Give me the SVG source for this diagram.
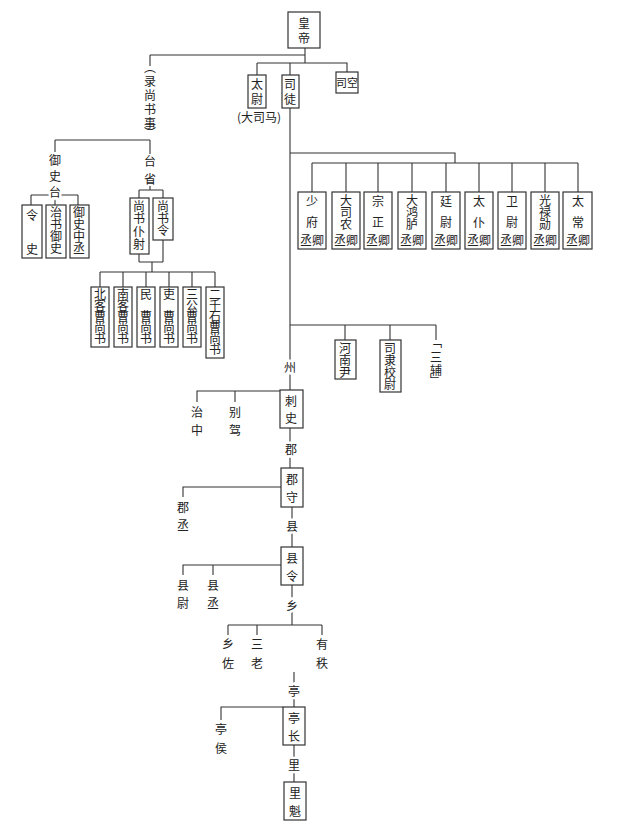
<svg xmlns="http://www.w3.org/2000/svg" width="640" height="827" viewBox="0 0 640 827">
<style>
text{font-family:"Noto Sans CJK SC",sans-serif;font-size:12px;fill:#222;text-anchor:middle}
.s{font-size:11px}
.t{font-size:10.5px}
.b{fill:#fff;stroke:#333;stroke-width:1.2}
.l{fill:none;stroke:#333;stroke-width:1.1}
.w{paint-order:stroke;stroke:#fff;stroke-width:5}
</style>
<rect width="640" height="827" fill="#fff"/>
<g id="connectors" class="l">
<path d="M305 48V63M150 55H305M257 63H347V72M257 63V75M290 63V75"/>
<path d="M150 55V66M150 144V140M55 140H150M55 140V152M150 140V154"/>
<path d="M31 195H78M31 195V205M55 195V205M78 195V205"/>
<path d="M150 186V190M139 190H163M139 190V198M163 190V198M139 254V262M163 240V262M139 262H163M152 262V272M100 272H215"/>
<path d="M100 272V287M123 272V287M146 272V287M169 272V287M192 272V287M215 272V287"/>
<path d="M290 108V468M290 153H455V163M312 163H578"/>
<path d="M312 163V192M346 163V192M378 163V192M412 163V192M446 163V192M479 163V192M512 163V192M545 163V192M578 163V192"/>
<path d="M290 325H436M345 325V340M390 325V340M436 325V340"/>
<path d="M280 391H197V402M235 391V402"/>
<path d="M281 487H183V497"/>
<path d="M292 507V547M281 565H183V575M213 565V575"/>
<path d="M292 585V625M228 625H322M228 625V635M257 625V635M322 625V635"/>
<path d="M294 672V707M283 707H221V720M294 745V782"/>
</g>
<g id="huangdi"><rect class="b" x="288" y="12" width="32" height="36"/><text x="304" y="28">皇</text><text x="304" y="43">帝</text></g>
<g id="taiwei"><rect class="b" x="248" y="75" width="18" height="33"/><text x="257" y="89">太</text><text x="257" y="104">尉</text><text x="259" y="122">(大司马)</text></g>
<g id="situ"><rect class="b" x="282" y="75" width="17" height="33"/><text x="290" y="89">司</text><text x="290" y="104">徒</text></g>
<g id="sikong"><rect class="b" x="336" y="72" width="22" height="21"/><text class="s" x="347" y="87">司空</text></g>
<g id="lushangshu"><text x="150" y="72">︵</text><text x="150" y="86">录</text><text x="150" y="100">尚</text><text x="150" y="114">书</text><text x="150" y="128">事</text><text x="150" y="138">︶</text></g>
<g id="yushitai"><text x="55" y="165">御</text><text x="55" y="181">史</text><text x="55" y="197" class="w">台</text></g>
<g id="taisheng"><text x="150" y="166">台</text><text x="150" y="184">省</text></g>
<g id="lingshi"><rect class="b" x="22" y="205" width="20" height="53"/><text x="32" y="220">令</text><text x="32" y="254">史</text></g>
<g id="zhishu" class="s"><rect class="b" x="46" y="205" width="20" height="53"/><text x="56" y="217">治</text><text x="56" y="229">书</text><text x="56" y="241">御</text><text x="56" y="253">史</text></g>
<g id="zhongcheng" class="s"><rect class="b" x="70" y="205" width="19" height="53"/><text x="79" y="217">御</text><text x="79" y="229">史</text><text x="79" y="241">中</text><text x="79" y="253">丞</text></g>
<g id="puye" class="s"><rect class="b" x="130" y="198" width="19" height="56"/><text x="139" y="211">尚</text><text x="139" y="223">书</text><text x="139" y="236">仆</text><text x="139" y="249">射</text></g>
<g id="shangshuling" class="s"><rect class="b" x="153" y="198" width="20" height="42"/><text x="163" y="211">尚</text><text x="163" y="223">书</text><text x="163" y="235">令</text></g>
<g id="beike" class="t"><rect class="b" x="91" y="287" width="18" height="60"/><text x="100" y="299">北</text><text x="100" y="310">客</text><text x="100" y="321">曹</text><text x="100" y="332">尚</text><text x="100" y="343">书</text></g>
<g id="nanke" class="t"><rect class="b" x="114" y="287" width="18" height="60"/><text x="123" y="299">南</text><text x="123" y="310">客</text><text x="123" y="321">曹</text><text x="123" y="332">尚</text><text x="123" y="343">书</text></g>
<g id="min" class="t"><rect class="b" x="137" y="287" width="18" height="60"/><text x="146" y="299">民</text><text x="146" y="321">曹</text><text x="146" y="332">尚</text><text x="146" y="343">书</text></g>
<g id="li" class="t"><rect class="b" x="160" y="287" width="18" height="60"/><text x="169" y="299">吏</text><text x="169" y="321">曹</text><text x="169" y="332">尚</text><text x="169" y="343">书</text></g>
<g id="sangong" class="t"><rect class="b" x="183" y="287" width="18" height="60"/><text x="192" y="299">三</text><text x="192" y="310">公</text><text x="192" y="321">曹</text><text x="192" y="332">尚</text><text x="192" y="343">书</text></g>
<g id="erqianshi" class="t"><rect class="b" x="206" y="287" width="18" height="71"/><text x="215" y="299">二</text><text x="215" y="310">千</text><text x="215" y="321">石</text><text x="215" y="332">曹</text><text x="215" y="343">尚</text><text x="215" y="354">书</text></g>
<g id="shaofu" class="s"><rect class="b" x="298" y="192" width="28" height="57"/><text x="312" y="206">少</text><text x="312" y="227">府</text><text x="312" y="245">丞卿</text></g>
<g id="dasinong" class="s"><rect class="b" x="332" y="192" width="28" height="57"/><text x="346" y="205">大</text><text x="346" y="217">司</text><text x="346" y="229">农</text><text x="346" y="245">丞卿</text></g>
<g id="zongzheng" class="s"><rect class="b" x="364" y="192" width="28" height="57"/><text x="378" y="206">宗</text><text x="378" y="227">正</text><text x="378" y="245">丞卿</text></g>
<g id="dahonglu" class="s"><rect class="b" x="398" y="192" width="28" height="57"/><text x="412" y="205">大</text><text x="412" y="217">鸿</text><text x="412" y="229">胪</text><text x="412" y="245">丞卿</text></g>
<g id="tingwei" class="s"><rect class="b" x="432" y="192" width="28" height="57"/><text x="446" y="206">廷</text><text x="446" y="227">尉</text><text x="446" y="245">丞卿</text></g>
<g id="taipu" class="s"><rect class="b" x="465" y="192" width="28" height="57"/><text x="479" y="206">太</text><text x="479" y="227">仆</text><text x="479" y="245">丞卿</text></g>
<g id="weiwei" class="s"><rect class="b" x="498" y="192" width="28" height="57"/><text x="512" y="206">卫</text><text x="512" y="227">尉</text><text x="512" y="245">丞卿</text></g>
<g id="guanglu" class="s"><rect class="b" x="531" y="192" width="28" height="57"/><text x="545" y="205">光</text><text x="545" y="217">禄</text><text x="545" y="229">勋</text><text x="545" y="245">丞卿</text></g>
<g id="taichang" class="s"><rect class="b" x="563" y="192" width="29" height="57"/><text x="578" y="206">太</text><text x="578" y="227">常</text><text x="578" y="245">丞卿</text></g>
<g id="henanyin" class="s"><rect class="b" x="335" y="340" width="21" height="39"/><text x="345" y="353">河</text><text x="345" y="365">南</text><text x="345" y="377">尹</text></g>
<g id="silixiaowei" class="s"><rect class="b" x="380" y="340" width="21" height="52"/><text x="390" y="353">司</text><text x="390" y="365">隶</text><text x="390" y="377">校</text><text x="390" y="389">尉</text></g>
<g id="sanfu" class="s"><text x="436" y="347" class="w">﹁</text><text x="436" y="362">三</text><text x="436" y="375">辅</text><text x="436" y="385">﹂</text></g>
<text x="290" y="372" class="w">州</text>
<g id="cishi"><rect class="b" x="280" y="390" width="23" height="38"/><text x="291" y="406">刺</text><text x="291" y="423">史</text></g>
<g id="zhizhong"><text x="197" y="417">治</text><text x="197" y="435">中</text></g>
<g id="biejia"><text x="235" y="417">别</text><text x="235" y="435">驾</text></g>
<text x="291" y="454" class="w">郡</text>
<g id="junshou"><rect class="b" x="281" y="468" width="22" height="39"/><text x="292" y="484">郡</text><text x="292" y="502">守</text></g>
<g id="juncheng"><text x="183" y="512">郡</text><text x="183" y="530">丞</text></g>
<text x="292" y="531" class="w">县</text>
<g id="xianling"><rect class="b" x="281" y="547" width="22" height="38"/><text x="292" y="563">县</text><text x="292" y="581">令</text></g>
<g id="xianwei"><text x="183" y="590">县</text><text x="183" y="608">尉</text></g>
<g id="xiancheng"><text x="213" y="590">县</text><text x="213" y="608">丞</text></g>
<text x="292" y="611" class="w">乡</text>
<g id="xiangzuo"><text x="228" y="649">乡</text><text x="228" y="668">佐</text></g>
<g id="sanlao"><text x="257" y="649">三</text><text x="257" y="668">老</text></g>
<g id="youzhi"><text x="322" y="649">有</text><text x="322" y="668">秩</text></g>
<text x="294" y="696" class="w">亭</text>
<g id="tingzhang"><rect class="b" x="283" y="707" width="22" height="38"/><text x="294" y="723">亭</text><text x="294" y="741">长</text></g>
<g id="tinghou"><text x="221" y="734">亭</text><text x="221" y="753">侯</text></g>
<text x="294" y="770" class="w">里</text>
<g id="likui"><rect class="b" x="284" y="782" width="22" height="38"/><text x="295" y="798">里</text><text x="295" y="816">魁</text></g>
</svg>
